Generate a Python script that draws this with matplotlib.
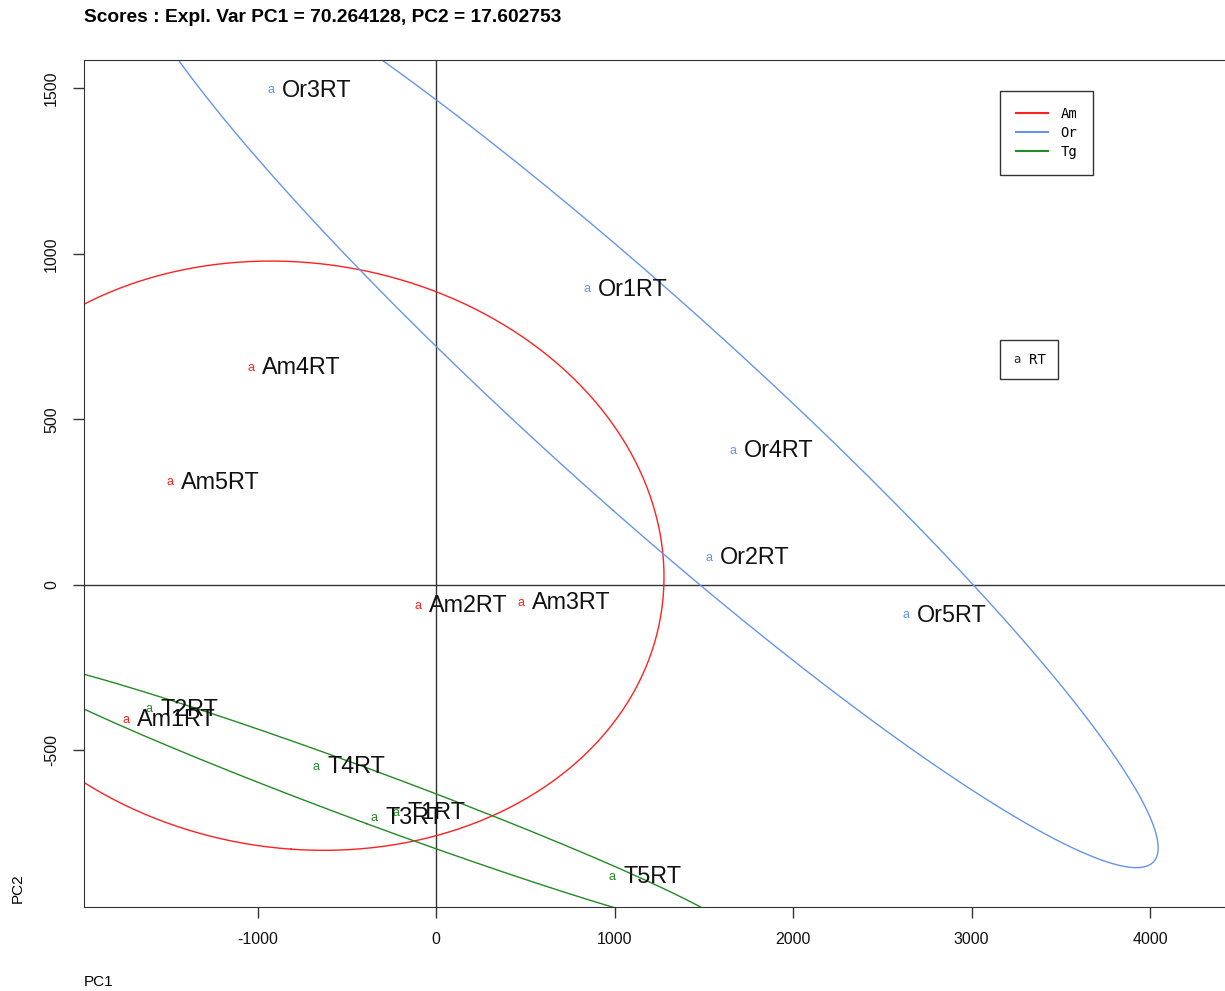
import numpy as np
import matplotlib
matplotlib.use("Agg")
import matplotlib.pyplot as plt
from matplotlib.lines import Line2D

plt.rcParams['font.family'] = ['Liberation Sans', 'DejaVu Sans']
plt.rcParams['axes.unicode_minus'] = False

# PCA scores
samples = ['Am1RT', 'Am2RT', 'Am3RT', 'Am4RT', 'Am5RT',
           'Or1RT', 'Or2RT', 'Or3RT', 'Or4RT', 'Or5RT',
           'T1RT', 'T2RT', 'T3RT', 'T4RT', 'T5RT']
groups = ['Am'] * 5 + ['Or'] * 5 + ['Tg'] * 5
pc1 = [-1737, -101, 476, -1036, -1490,
       846, 1529, -924, 1664, 2633,
       -224, -1608, -347, -672, 986]
pc2 = [-408, -63, -54, 656, 311,
       894, 82, 1495, 405, -91,
       -689, -375, -704, -550, -882]

group_names = ['Am', 'Or', 'Tg']
group_colors = {'Am': '#FF2020', 'Or': '#6495ED', 'Tg': '#228B22'}

xticks = [-1000, 0, 1000, 2000, 3000, 4000]
yticks = [-500, 0, 500, 1000, 1500]


def conf_ellipse(x, y, chi2=5.991, n=200):
    """95% data ellipse from the group covariance"""
    x = np.asarray(x, float)
    y = np.asarray(y, float)
    cov = np.cov(x, y, bias=True)
    vals, vecs = np.linalg.eigh(cov)
    t = np.linspace(0, 2 * np.pi, n)
    circ = np.vstack([np.cos(t), np.sin(t)])
    pts = vecs @ (np.sqrt(vals * chi2)[:, None] * circ)
    return pts[0] + x.mean(), pts[1] + y.mean()


fig = plt.figure(figsize=(12.25, 9.91), dpi=100, facecolor='w')
ax = fig.add_axes([84 / 1225, 1 - 907 / 991, 1 - 84 / 1225, (907 - 60) / 991])
ax.set_xlim(-1972, 4420)
ax.set_ylim(-973, 1586)

# axes at zero
ax.axhline(0, color='#333333', lw=1)
ax.axvline(0, color='#333333', lw=1)

pc1 = np.array(pc1)
pc2 = np.array(pc2)
grp = np.array(groups)
for g in group_names:
    m = grp == g
    ex, ey = conf_ellipse(pc1[m], pc2[m])
    ax.plot(ex, ey, color=group_colors[g], lw=1)

for name, g, x, y in zip(samples, groups, pc1, pc2):
    ax.text(x, y, 'a', color=group_colors[g], fontsize=9, ha='center', va='center')
    ax.annotate(name, (x, y), xytext=(8, 0), textcoords='offset points',
                fontsize=16.8, ha='left', va='center', color='#111111')

ax.set_xticks(xticks)
ax.set_yticks(yticks)
ax.tick_params(axis='both', length=8, width=1, labelsize=11.5, pad=10, colors='#333333')
ax.tick_params(axis='x', labelcolor='#111111')
ax.tick_params(axis='y', labelcolor='#111111')
for lab in ax.get_yticklabels():
    lab.set_rotation(90)
    lab.set_va('center')
for side in ('left', 'bottom', 'top'):
    ax.spines[side].set_color('#333333')
ax.spines['right'].set_visible(False)

fig.text(84 / 1225, 1 - 18 / 991, 'Scores : Expl. Var PC1 = 70.264128, PC2 = 17.602753',
         fontsize=13.8, fontweight='bold', ha='left', va='center')
fig.text(84 / 1225, 1 - 982 / 991, 'PC1', fontsize=11, ha='left', va='center')
fig.text(18 / 1225, 1 - 888 / 991, 'PC2', fontsize=11, ha='center', va='center', rotation=90)

handles = [Line2D([], [], color=group_colors[g], lw=1.5) for g in group_names]
leg1 = ax.legend(handles, group_names, loc='upper left',
                 bbox_to_anchor=(1000 / 1225, 1 - 91 / 991), bbox_transform=fig.transFigure,
                 fancybox=False, edgecolor='#333333', framealpha=1,
                 prop={'family': 'DejaVu Sans Mono', 'size': 10},
                 handlelength=2.3, handletextpad=0.9, borderaxespad=0,
                 labelspacing=0.35, borderpad=1.15)
leg1.get_frame().set_linewidth(1)
ax.add_artist(leg1)

h2 = [Line2D([], [], color='#222222', marker=r'$\mathrm{a}$', ls='none',
             markersize=5, markeredgewidth=0)]
leg2 = ax.legend(h2, ['RT'], loc='upper left',
                 bbox_to_anchor=(1000 / 1225, 1 - 340 / 991), bbox_transform=fig.transFigure,
                 fancybox=False, edgecolor='#333333', framealpha=1,
                 prop={'family': 'DejaVu Sans Mono', 'size': 10},
                 handlelength=0.7, handletextpad=0.5, borderaxespad=0, borderpad=0.9)
leg2.get_frame().set_linewidth(1)

fig.savefig('out.png', dpi=100)
